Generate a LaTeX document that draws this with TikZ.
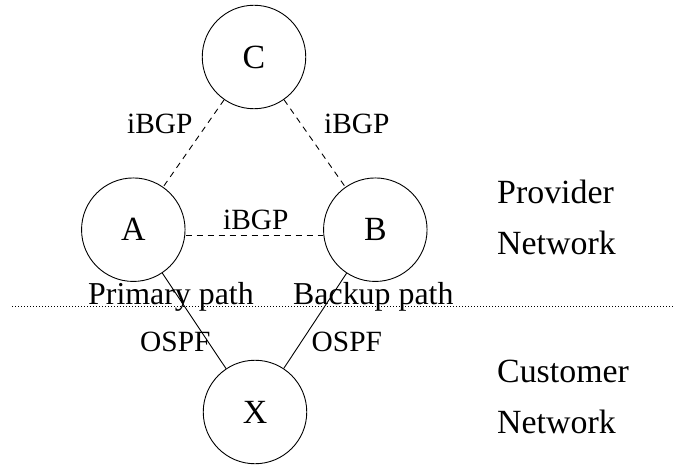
\documentclass[tikz,border=0pt]{standalone}
\usepackage{fontspec}
\setmainfont{Liberation Serif}
\begin{document}
\begin{tikzpicture}[x=1bp,y=-1bp,
  router/.style={draw,circle,minimum size=103.5bp,inner sep=0pt,line width=0.9bp,
    font=\fontsize{34}{36}\selectfont},
  lbl/.style={anchor=base west,inner sep=0pt,font=\fontsize{29.5}{32}\selectfont},
  plbl/.style={anchor=base west,inner sep=0pt,font=\fontsize{32}{34}\selectfont},
  side/.style={anchor=base west,inner sep=0pt,font=\fontsize{34}{36}\selectfont},
  ibgp/.style={line width=0.9bp,dash pattern=on 6bp off 5bp},
  ospf/.style={line width=0.9bp},
  sep/.style={line width=0.9bp,dash pattern=on 1bp off 2bp}]
\useasboundingbox (0,0) rectangle (673,468);
\node[router] (C) at (254,57) {C};
\node[router] (A) at (133.3,229.7) {A};
\node[router] (B) at (375.3,229.7) {B};
\node[router] (X) at (255,412) {X};
\draw[ibgp] (C) -- (A);
\draw[ibgp] (C) -- (B);
\draw[ibgp] ([yshift=-6bp]A.east) -- ([yshift=-6bp]B.west);
\draw[ospf] (A) -- (X);
\draw[ospf] (B) -- (X);
\coordinate (sepL) at (12,306);
\coordinate (sepR) at (673,306);
\draw[sep] (sepL) -- (sepR);
\node[lbl] (l1) at (127,134) {iBGP};
\node[lbl] (l2) at (324,134) {iBGP};
\node[lbl] (l3) at (223,230) {iBGP};
\node[plbl] (p1) at (88,305) {Primary path};
\node[plbl] (p2) at (293,305) {Backup path};
\node[lbl] (o1) at (140,351.5) {OSPF};
\node[lbl] (o2) at (311.5,351.5) {OSPF};
\node[side] (t1) at (497,204) {Provider};
\node[side] (t2) at (497,255) {Network};
\node[side] (t3) at (497,382) {Customer};
\node[side] (t4) at (497,433) {Network};
\end{tikzpicture}
\end{document}
